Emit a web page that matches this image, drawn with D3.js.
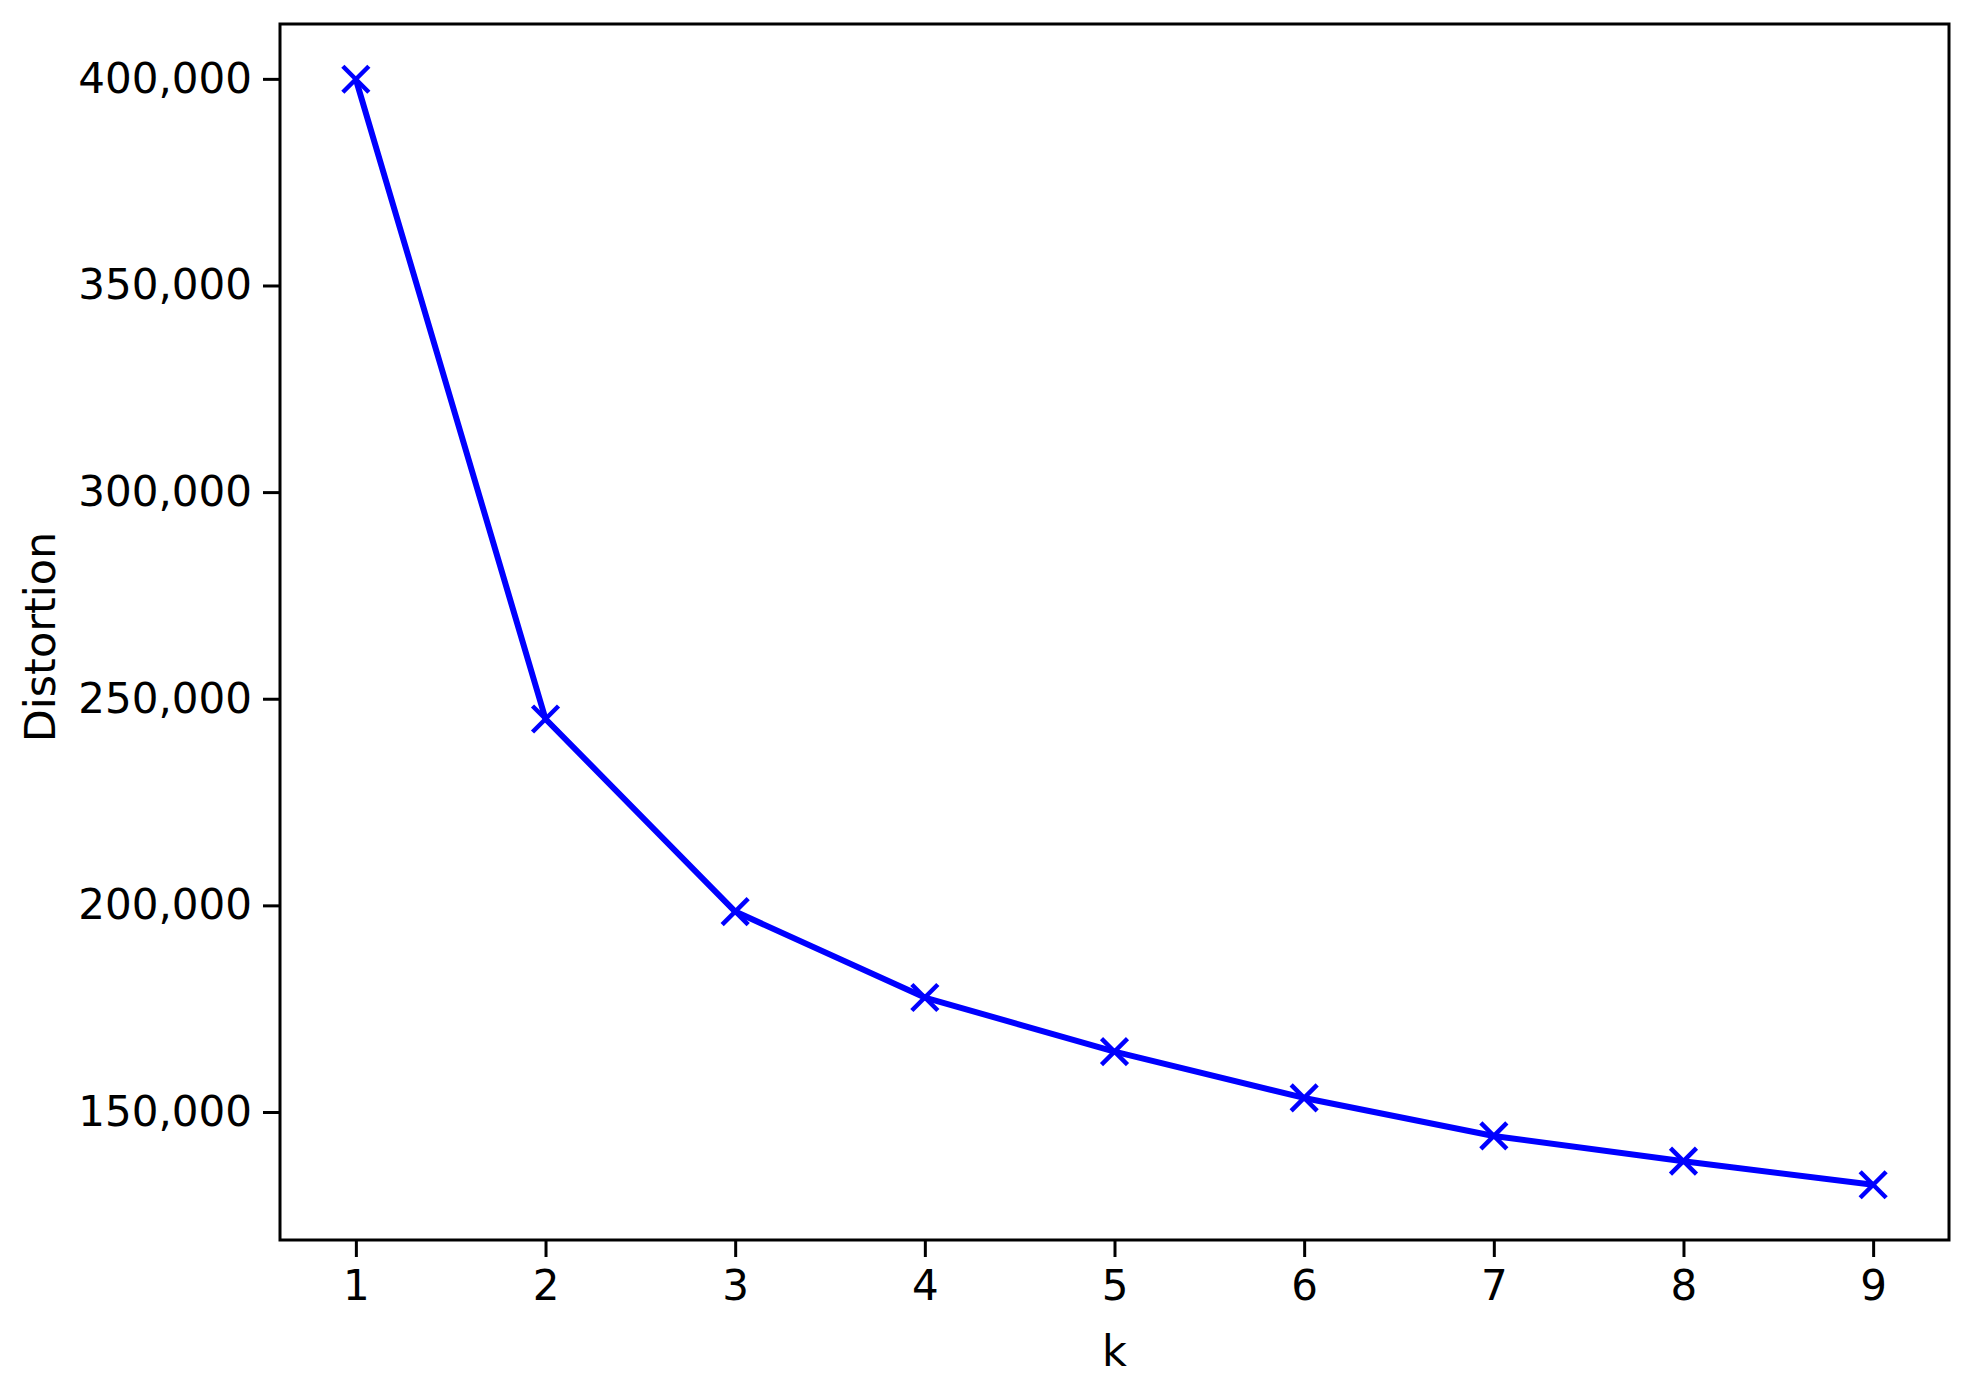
<!DOCTYPE html>
<html>
  <head>
    <meta charset="utf-8">
    <title>Elbow curve</title>
    <script src="https://d3js.org/d3.v7.min.js"></script>
  </head>
  <style>
    body { margin: 0; background: #fff; }
    svg { display: block; }
    .tick text { font-family: "DejaVu Sans", sans-serif; font-size: 42px; fill: #000; }
    .tick line { stroke: #000; stroke-width: 3; }
    .domain { display: none; }
    .axisLabel { font-family: "DejaVu Sans", sans-serif; font-size: 43px; fill: #000; }
    .curve { fill: none; stroke: #0000ff; stroke-width: 6; stroke-linejoin: round; }
    .marker { stroke: #0000ff; stroke-width: 4.5; }
  </style>
  <body>
    <script type="text/javascript">
        var width = 1971;
        var height = 1386;

        // data
        const kValues = [1, 2, 3, 4, 5, 6, 7, 8, 9];
        const distortion = [399900, 245100, 198500, 177700, 164600, 153400, 144200, 138100, 132400];
        const yTickValues = [150000, 200000, 250000, 300000, 350000, 400000];

        const plot = {left: 280, right: 1949, top: 24, bottom: 1240};

        const svg = d3.select('body').append('svg').attr('width', width).attr('height', height);

        // matplotlib style 5% margins
        const xPad = (d3.max(kValues) - d3.min(kValues)) * 0.05;
        const yPad = (d3.max(distortion) - d3.min(distortion)) * 0.05;

        const x = d3.scaleLinear()
          .domain([d3.min(kValues) - xPad, d3.max(kValues) + xPad])
          .range([plot.left, plot.right]);
        const y = d3.scaleLinear()
          .domain([d3.min(distortion) - yPad, d3.max(distortion) + yPad])
          .range([plot.bottom, plot.top]);

        svg.append('g')
          .attr('transform', 'translate(0,' + plot.bottom + ')')
          .call(d3.axisBottom(x).tickValues(kValues).tickSize(17).tickPadding(13).tickFormat(d3.format('d')));

        svg.append('g')
          .attr('transform', 'translate(' + plot.left + ',0)')
          .call(d3.axisLeft(y).tickValues(yTickValues).tickSize(17).tickPadding(11).tickFormat(d3.format(',')));

        const data = kValues.map((k, i) => ({k: k, v: distortion[i]}));

        svg.append('path')
          .datum(data)
          .attr('class', 'curve')
          .attr('d', d3.line().x(d => x(d.k)).y(d => y(d.v)));

        const s = 13;
        const marks = svg.append('g').selectAll('g').data(data).enter().append('g')
          .attr('transform', d => 'translate(' + x(d.k) + ',' + y(d.v) + ')');
        marks.append('line').attr('class', 'marker').attr('x1', -s).attr('y1', -s).attr('x2', s).attr('y2', s);
        marks.append('line').attr('class', 'marker').attr('x1', -s).attr('y1', s).attr('x2', s).attr('y2', -s);

        // frame
        svg.append('rect')
          .attr('x', plot.left).attr('y', plot.top)
          .attr('width', plot.right - plot.left).attr('height', plot.bottom - plot.top)
          .attr('fill', 'none').attr('stroke', '#000').attr('stroke-width', 3);

        svg.append('text')
          .attr('class', 'axisLabel')
          .attr('x', (plot.left + plot.right) / 2)
          .attr('y', 1366)
          .attr('text-anchor', 'middle')
          .text('k');

        svg.append('text')
          .attr('class', 'axisLabel')
          .attr('transform', 'translate(55,' + ((plot.top + plot.bottom) / 2 + 5) + ') rotate(-90)')
          .attr('text-anchor', 'middle')
          .text('Distortion');
    </script>
  </body>
</html>
